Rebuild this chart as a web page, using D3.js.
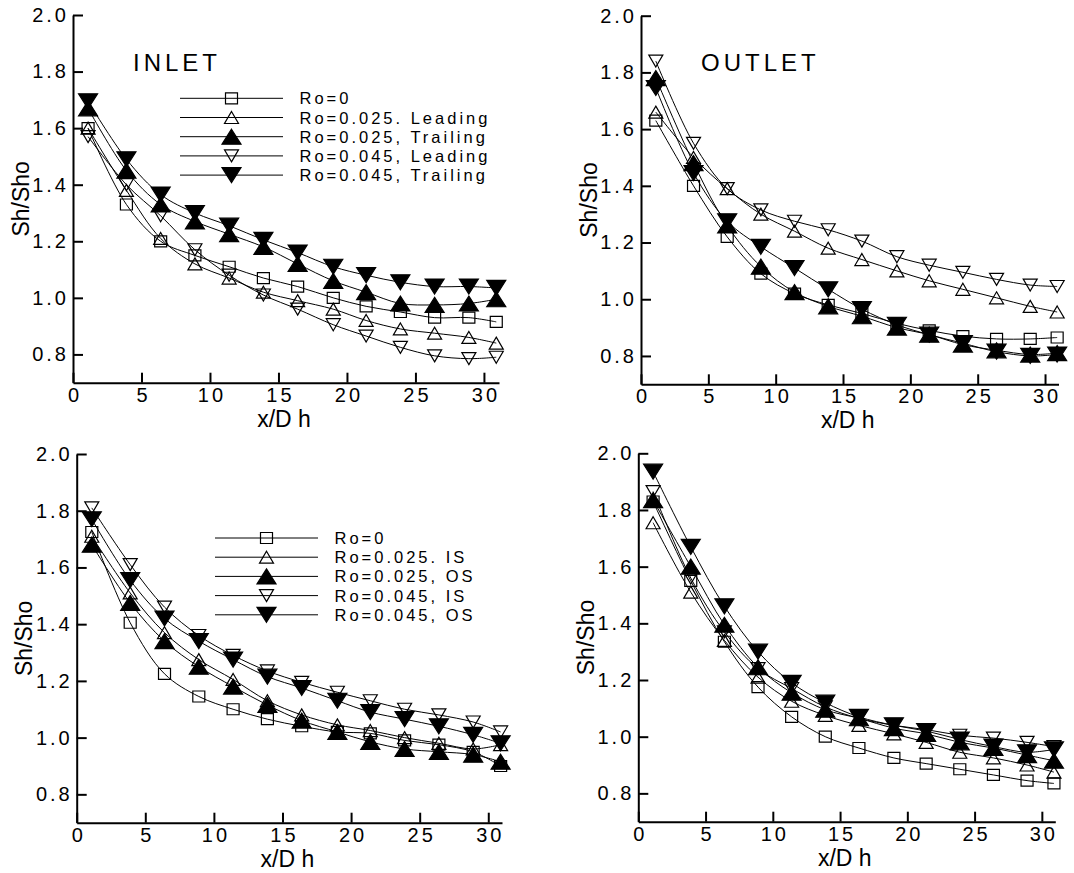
<!DOCTYPE html>
<html>
<head>
<meta charset="utf-8">
<script src="https://cdn.jsdelivr.net/npm/d3@7"></script>
<style>
  body { margin: 0; background: #fff; }
  svg { display: block; font-family: "Liberation Sans", Arial, sans-serif; }
</style>
</head>
<body>
<svg id="chart" width="1074" height="873"></svg>
<script>
// x positions of the measuring stations (same in every panel)
const x_dh = [1.1, 3.9, 6.4, 8.9, 11.4, 13.9, 16.4, 19.0, 21.4, 23.9, 26.4, 28.9, 30.9];

// Top left: INLET, leading / trailing
const inlet_lt_ro0   = [1.60, 1.33, 1.20, 1.15, 1.11, 1.07, 1.04, 1.00, 0.97, 0.95, 0.93, 0.93, 0.915];
const inlet_lt_025_l = [1.60, 1.38, 1.21, 1.12, 1.07, 1.02, 0.99, 0.96, 0.92, 0.89, 0.875, 0.86, 0.84];
const inlet_lt_025_t = [1.67, 1.45, 1.33, 1.27, 1.225, 1.18, 1.12, 1.06, 1.02, 0.98, 0.975, 0.98, 0.995];
const inlet_lt_045_l = [1.57, 1.40, 1.29, 1.17, 1.08, 1.01, 0.96, 0.905, 0.865, 0.825, 0.795, 0.785, 0.79];
const inlet_lt_045_t = [1.695, 1.49, 1.365, 1.30, 1.255, 1.205, 1.16, 1.11, 1.08, 1.055, 1.04, 1.04, 1.035];

// Top right: OUTLET, leading / trailing
const outlet_lt_ro0   = [1.63, 1.40, 1.22, 1.09, 1.02, 0.98, 0.95, 0.915, 0.89, 0.87, 0.86, 0.86, 0.865];
const outlet_lt_025_l = [1.66, 1.50, 1.39, 1.30, 1.24, 1.18, 1.14, 1.10, 1.065, 1.035, 1.005, 0.975, 0.955];
const outlet_lt_025_t = [1.78, 1.48, 1.26, 1.115, 1.025, 0.975, 0.94, 0.90, 0.875, 0.84, 0.82, 0.805, 0.81];
const outlet_lt_045_l = [1.84, 1.55, 1.39, 1.315, 1.275, 1.245, 1.205, 1.15, 1.12, 1.095, 1.07, 1.05, 1.045];
const outlet_lt_045_t = [1.745, 1.445, 1.275, 1.185, 1.11, 1.035, 0.965, 0.91, 0.875, 0.845, 0.815, 0.80, 0.805];

// Bottom left: INLET, inner / outer side
const inlet_io_ro0   = [1.725, 1.405, 1.225, 1.145, 1.10, 1.065, 1.04, 1.02, 1.015, 0.99, 0.975, 0.95, 0.90];
const inlet_io_025_i = [1.71, 1.51, 1.37, 1.275, 1.205, 1.13, 1.08, 1.045, 1.025, 1.00, 0.98, 0.96, 0.975];
const inlet_io_025_o = [1.68, 1.475, 1.34, 1.25, 1.18, 1.115, 1.06, 1.02, 0.985, 0.96, 0.95, 0.94, 0.915];
const inlet_io_045_i = [1.81, 1.61, 1.46, 1.36, 1.29, 1.235, 1.195, 1.16, 1.13, 1.10, 1.08, 1.055, 1.02];
const inlet_io_045_o = [1.77, 1.555, 1.42, 1.34, 1.275, 1.215, 1.175, 1.13, 1.09, 1.065, 1.04, 1.01, 0.98];

// Bottom right: OUTLET, inner / outer side
const outlet_io_ro0   = [1.83, 1.55, 1.335, 1.175, 1.07, 1.00, 0.96, 0.925, 0.905, 0.885, 0.865, 0.845, 0.835];
const outlet_io_025_i = [1.755, 1.51, 1.34, 1.21, 1.125, 1.075, 1.04, 1.01, 0.98, 0.945, 0.925, 0.90, 0.875];
const outlet_io_025_o = [1.835, 1.60, 1.395, 1.245, 1.155, 1.095, 1.065, 1.03, 1.01, 0.98, 0.96, 0.935, 0.915];
const outlet_io_045_i = [1.865, 1.56, 1.37, 1.24, 1.17, 1.105, 1.065, 1.04, 1.025, 1.005, 0.995, 0.98, 0.965];
const outlet_io_045_o = [1.935, 1.67, 1.46, 1.30, 1.19, 1.12, 1.07, 1.04, 1.02, 0.99, 0.965, 0.945, 0.955];

// Legend labels and ticks
const legend_lt = ['Ro=0', 'Ro=0.025. Leading', 'Ro=0.025, Trailing', 'Ro=0.045, Leading', 'Ro=0.045, Trailing'];
const legend_io = ['Ro=0', 'Ro=0.025. IS', 'Ro=0.025, OS', 'Ro=0.045, IS', 'Ro=0.045, OS'];
const y_ticks = [0.8, 1.0, 1.2, 1.4, 1.6, 1.8, 2.0];
const x_ticks = [0, 5, 10, 15, 20, 25, 30];
const y_domain = [0.7, 2.0];

// marker order for the five series
const marker_types = ['square', 'up_open', 'up_fill', 'down_open', 'down_fill'];

const svg = d3.select('#chart');
svg.append('rect').attr('width', 1074).attr('height', 873).attr('fill', '#fff');

// Marker path around (0,0)
const marker_path = (type) => {
    if (type === 'square') return 'M-6,-5.5H6V5.5H-6Z';
    if (type === 'up_open') return 'M0,-6L7,6L-7,6Z';
    if (type === 'down_open') return 'M0,6L7,-6L-7,-6Z';
    if (type === 'up_fill') return 'M0,-7.5L9.5,7.5L-9.5,7.5Z';
    return 'M0,7.5L9.5,-7.5L-9.5,-7.5Z';
};

const draw_marker = (g, type, x, y) => {
    const filled = type.endsWith('fill');
    g.append('path')
        .attr('d', marker_path(type))
        .attr('transform', `translate(${x},${y})`)
        .attr('fill', filled ? '#000' : 'none')
        .attr('stroke', '#000')
        .attr('stroke-width', 1.2);
};

// Panel layout
const panels = [
    { left: 73, top: 15, width: 426, height: 367.7, x_max: 31.1,
      series: [inlet_lt_ro0, inlet_lt_025_l, inlet_lt_025_t, inlet_lt_045_l, inlet_lt_045_t],
      title: 'INLET', legend: legend_lt, legend_pos: { x1: 180, x2: 283, y: 98.3 } },
    { left: 641, top: 15.7, width: 417.5, height: 368.6, x_max: 31.0,
      series: [outlet_lt_ro0, outlet_lt_025_l, outlet_lt_025_t, outlet_lt_045_l, outlet_lt_045_t],
      title: 'OUTLET', legend: null },
    { left: 76.7, top: 454, width: 425.3, height: 368.7, x_max: 31.0,
      series: [inlet_io_ro0, inlet_io_025_i, inlet_io_025_o, inlet_io_045_i, inlet_io_045_o],
      title: null, legend: legend_io, legend_pos: { x1: 215, x2: 318, y: 538 } },
    { left: 638.3, top: 453.3, width: 417, height: 368.4, x_max: 31.0,
      series: [outlet_io_ro0, outlet_io_025_i, outlet_io_025_o, outlet_io_045_i, outlet_io_045_o],
      title: null, legend: null }
];

const draw_panel = (p) => {
    const g = svg.append('g').attr('transform', `translate(${p.left},${p.top})`);

    const x_scale = d3.scaleLinear().domain([0, p.x_max]).range([0, p.width]);
    const y_scale = d3.scaleLinear().domain(y_domain).range([p.height, 0]);

    // axes with inward ticks
    const y_axis = g.append('g')
        .call(d3.axisLeft(y_scale).tickValues(y_ticks).tickFormat(d3.format('.1f'))
            .tickSizeInner(-10).tickSizeOuter(0).tickPadding(4));
    const x_axis = g.append('g')
        .attr('transform', `translate(0,${p.height})`)
        .call(d3.axisBottom(x_scale).tickValues(x_ticks).tickFormat(d3.format('d'))
            .tickSizeInner(-10).tickSizeOuter(0).tickPadding(5));

    [y_axis, x_axis].forEach(ax => {
        ax.select('.domain').attr('stroke', '#000').attr('stroke-width', 2);
        ax.selectAll('.tick line').attr('stroke', '#000').attr('stroke-width', 2);
        ax.selectAll('.tick text')
            .attr('fill', '#000')
            .style('font-family', '"Liberation Sans", Arial, sans-serif')
            .style('font-size', '20px')
            .style('letter-spacing', '3px');
    });
    x_axis.selectAll('.tick text').attr('dx', '1.5px');

    // axis titles
    g.append('text')
        .attr('x', p.width / 2 - 2)
        .attr('y', p.height + 44)
        .attr('text-anchor', 'middle')
        .style('font-size', '23px')
        .text('x/D h');
    g.append('text')
        .attr('transform', `translate(-44.5,${p.height / 2}) rotate(-90)`)
        .attr('text-anchor', 'middle')
        .style('font-size', '23px')
        .text('Sh/Sho');

    if (p.title) {
        g.append('text')
            .attr('x', 60)
            .attr('y', 71 - p.top)
            .style('font-size', '24px')
            .style('letter-spacing', '4px')
            .text(p.title);
    }

    // smooth curves then markers
    const line = d3.line()
        .x((d, i) => x_scale(x_dh[i]))
        .y(d => y_scale(d))
        .curve(d3.curveCatmullRom.alpha(0.5));

    p.series.forEach(values => {
        g.append('path')
            .attr('d', line(values))
            .attr('fill', 'none')
            .attr('stroke', '#000')
            .attr('stroke-width', 1);
    });
    p.series.forEach((values, s) => {
        values.forEach((v, i) => draw_marker(g, marker_types[s], x_scale(x_dh[i]), y_scale(v)));
    });

    // legend
    if (p.legend) {
        const lp = p.legend_pos;
        p.legend.forEach((label, i) => {
            const y = lp.y + i * 19.2;
            svg.append('line')
                .attr('x1', lp.x1).attr('x2', lp.x2)
                .attr('y1', y).attr('y2', y)
                .attr('stroke', '#000').attr('stroke-width', 1);
            draw_marker(svg, marker_types[i], (lp.x1 + lp.x2) / 2, y);
            svg.append('text')
                .attr('x', lp.x2 + 16.5)
                .attr('y', y + 6)
                .style('font-size', '16.5px')
                .style('letter-spacing', '3px')
                .text(label);
        });
    }
};

panels.forEach(draw_panel);
</script>
</body>
</html>
